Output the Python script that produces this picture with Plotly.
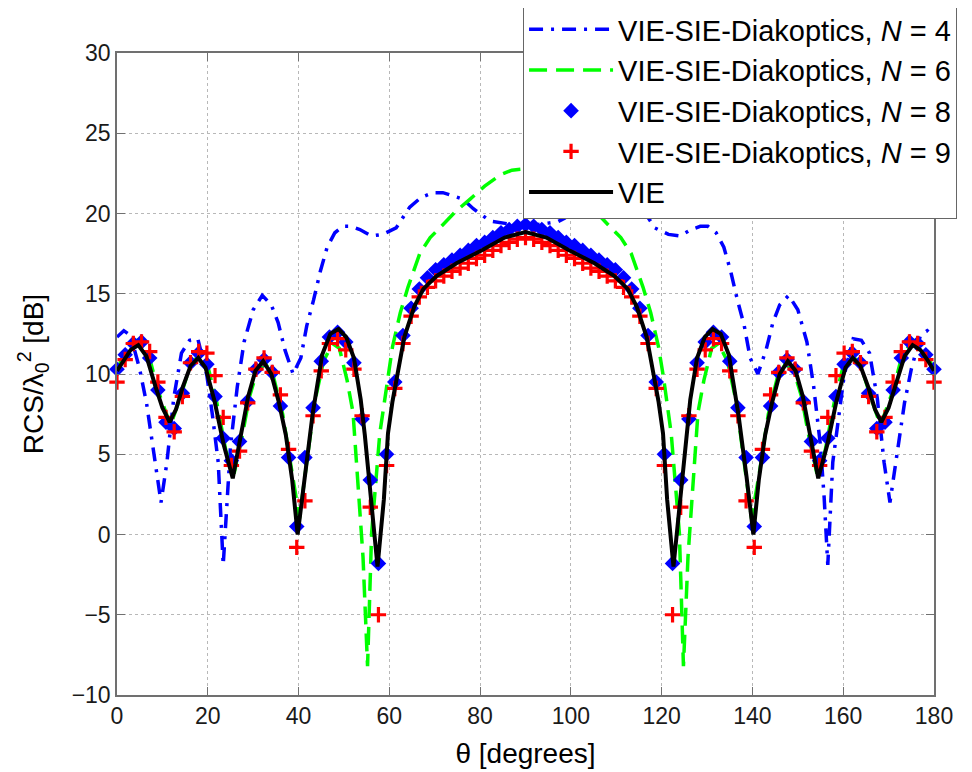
import plotly.graph_objects as go

# ---------------- data ----------------
# VIE-SIE-Diakoptics, N = 4  (dash-dot blue line)
theta_n4 = [0, 1.5, 3.0, 5.0, 6.5, 8.0, 9.7, 11.0, 12.5, 14.2, 16.0, 17.8, 19.8, 21.0, 22.3,
            23.4, 24.2, 25.0, 26.5, 28.0, 30.0, 32.0, 34.0, 35.5, 37.0, 38.8, 40.5, 41.8, 43.3,
            44.8, 46.3, 48.0, 49.8, 51.5, 53.5, 56.0, 58.5, 61.5, 64.5, 67.0, 69.6, 71.8, 74.0,
            76.2, 78.5, 81.4, 82.8, 85.0, 87.5, 90.0,
            92.5, 95.0, 97.2, 98.6, 101.5, 103.8, 106.0, 108.2, 110.4, 113.0, 115.5, 118.5,
            121.5, 124.0, 126.5, 128.5, 130.2, 132.0, 133.7, 135.2, 136.7, 138.2, 139.5, 141.2,
            143.0, 144.5, 146.0, 148.0, 150.0, 152.0, 153.5, 155.0, 155.8, 156.6, 157.7, 159.0,
            160.2, 162.2, 164.0, 165.8, 167.5, 169.0, 170.3, 172.0, 173.5, 175.0, 177.0, 178.5, 180]
rcs_n4 = [12.3, 12.7, 12.4, 10.3, 8.2, 5.3, 2.0, 4.5, 8.5, 11.3, 12.1, 12.2, 9.9, 7.5, 4.5,
          -1.9, 2.3, 5.5, 9.2, 12.0, 14.0, 14.9, 14.3, 13.2, 11.5, 10.0, 11.0, 13.0, 14.6,
          16.4, 17.9, 18.8, 19.2, 19.2, 19.0, 18.6, 18.7, 19.1, 20.4, 21.0, 21.3, 21.3, 21.1,
          20.9, 20.3, 19.7, 19.5, 19.4, 19.3, 19.3,
          19.3, 19.4, 19.5, 19.7, 20.3, 20.9, 21.1, 21.3, 21.3, 21.0, 20.4, 19.1,
          18.7, 18.6, 19.0, 19.2, 19.2, 18.8, 17.9, 16.4, 14.6, 13.0, 11.0, 10.0,
          11.5, 13.2, 14.3, 14.9, 14.0, 12.0, 9.2, 5.5, 2.3, -1.9, 4.5, 7.5,
          9.9, 12.2, 12.1, 11.3, 8.5, 4.5, 2.0, 5.3, 8.2, 10.3, 12.4, 12.7, 12.3]

# VIE-SIE-Diakoptics, N = 6  (dashed green line)
theta_n6 = [0, 2.0, 4.5, 7.0, 9.0, 11.8, 14.0, 16.2, 18.2, 20.0, 22.0, 24.0, 25.8, 27.5, 29.2,
            31.0, 32.8, 34.5, 36.5, 38.5, 40.2, 41.8, 43.6, 45.5, 47.5, 49.0, 50.7, 52.0, 53.1,
            54.2, 55.2, 56.1, 57.9, 59.6, 60.7, 62.4, 64.1, 66.7, 69.0, 71.8, 74.5, 77.8, 81.0,
            84.4, 87.0, 90.0,
            93.0, 95.6, 99.0, 102.2, 105.5, 108.2, 111.0, 113.3, 115.9, 117.6, 119.3, 120.4,
            122.1, 123.9, 124.8, 125.8, 126.9, 128.0, 129.3, 131.0, 132.5, 134.5, 136.4, 138.2,
            139.8, 141.5, 143.5, 145.5, 147.2, 149.0, 150.8, 152.5, 154.2, 156.0, 158.0, 160.0,
            161.8, 163.8, 166.0, 168.2, 171.0, 173.0, 175.5, 178.0, 180]
rcs_n6 = [10.3, 11.4, 12.1, 11.2, 9.0, 6.8, 8.6, 10.6, 11.2, 10.5, 8.2, 5.2, 3.8, 6.0, 8.6,
          10.3, 10.6, 9.8, 7.5, 3.8, 1.0, 4.5, 8.3, 10.8, 11.9, 11.6, 9.6, 7.6, 3.2,
          -1.4, -8.2, 0.1, 6.3, 9.8, 11.7, 13.8, 15.4, 17.5, 18.5, 19.3, 20.1, 20.9, 21.7,
          22.4, 22.7, 22.8,
          22.7, 22.4, 21.7, 20.9, 20.1, 19.3, 18.5, 17.5, 15.4, 13.8, 11.7, 9.8,
          6.3, 0.1, -8.2, -1.4, 3.2, 7.6, 9.6, 11.6, 11.9, 10.8, 8.3, 4.5,
          1.0, 3.8, 7.5, 9.8, 10.6, 10.3, 8.6, 6.0, 3.8, 5.2, 8.2, 10.5,
          11.2, 10.6, 8.6, 6.8, 9.0, 11.2, 12.1, 11.4, 10.3]

# sample angles of the marker series N = 8 and N = 9
theta_grid = [0, 1.8, 3.6, 5.4, 7.2, 9, 10.8, 12.6, 14.4, 16.2, 18, 19.8, 21.6, 23.4, 25.2, 27,
              28.8, 30.6, 32.4, 34.2, 36, 37.8, 39.6, 41.4, 43.2, 45, 46.8, 48.6, 50.4, 52.2, 54,
              55.8, 57.6, 59.4, 61.2, 63, 64.8, 66.6, 68.4, 70.2, 72, 73.8, 75.6, 77.4, 79.2, 81,
              82.8, 84.6, 86.4, 88.2, 90, 91.8, 93.6, 95.4, 97.2, 99, 100.8, 102.6, 104.4, 106.2,
              108, 109.8, 111.6, 113.4, 115.2, 117, 118.8, 120.6, 122.4, 124.2, 126, 127.8, 129.6,
              131.4, 133.2, 135, 136.8, 138.6, 140.4, 142.2, 144, 145.8, 147.6, 149.4, 151.2, 153,
              154.8, 156.6, 158.4, 160.2, 162, 163.8, 165.6, 167.4, 169.2, 171, 172.8, 174.6,
              176.4, 178.2, 180]

# VIE-SIE-Diakoptics, N = 8  (blue diamonds)
rcs_n8 = [10.3, 11.2, 11.9, 12.0, 11.0, 9.0, 7.0, 6.6, 8.8, 10.7, 11.3, 10.6, 8.6, 6.0, 4.6,
          5.8, 8.3, 10.3, 10.9, 10.1, 8.0, 4.8, 0.5, 4.8, 7.9, 10.8, 12.3, 12.6, 12.0, 10.7,
          7.2, 3.4, -1.8, 5.0, 9.5, 12.4, 14.1, 15.3, 16.0, 16.5, 16.8, 17.1, 17.4, 17.7, 18.0,
          18.2, 18.5, 18.8, 19.0, 19.2, 19.3,
          19.2, 19.0, 18.8, 18.5, 18.2, 18.0, 17.7, 17.4, 17.1, 16.8, 16.5, 16.0, 15.3, 14.1,
          12.4, 9.5, 5.0, -1.8, 3.4, 7.2, 10.7, 12.0, 12.6, 12.3, 10.8, 7.9, 4.8, 0.5, 4.8,
          8.0, 10.1, 10.9, 10.3, 8.3, 5.8, 4.6, 6.0, 8.6, 10.6, 11.3, 10.7, 8.8, 6.6, 7.0,
          9.0, 11.0, 12.0, 11.9, 11.2, 10.3]

# VIE-SIE-Diakoptics, N = 9  (red plus signs)
rcs_n9 = [9.5, 10.9, 11.9, 12.0, 11.4, 9.5, 7.3, 6.4, 8.6, 10.7, 11.4, 11.3, 9.9, 7.3, 4.3,
          5.2, 8.2, 10.3, 11.0, 10.1, 8.7, 5.3, -0.8, 2.1, 7.4, 10.2, 11.9, 12.2, 11.5, 10.3,
          7.4, 1.7, -5.0, 4.3, 9.1, 11.9, 13.6, 14.8, 15.4, 15.8, 16.1, 16.4, 16.6, 16.9, 17.2,
          17.4, 17.7, 18.0, 18.2, 18.4, 18.5,
          18.4, 18.2, 18.0, 17.7, 17.4, 17.2, 16.9, 16.6, 16.4, 16.1, 15.8, 15.4, 14.8, 13.6,
          11.9, 9.1, 4.3, -5.0, 1.7, 7.4, 10.3, 11.5, 12.2, 11.9, 10.2, 7.4, 2.1, -0.8, 5.3,
          8.7, 10.1, 11.0, 10.3, 8.2, 5.2, 4.3, 7.3, 9.9, 11.3, 11.4, 10.7, 8.6, 6.4, 7.3,
          9.5, 11.4, 12.0, 11.9, 10.9, 9.5]

# VIE reference solution (solid black line)
theta_vie = [0, 1.5, 3.0, 4.7, 6.5, 8.5, 10.0, 11.6, 13.0, 14.5, 16.2, 17.9, 19.5, 21.5, 23.5,
             25.5, 27.2, 28.9, 30.5, 32.2, 34.0, 35.7, 37.2, 38.6, 39.8, 41.3, 43.1, 45.2, 47.0,
             48.8, 50.5, 52.2, 53.7, 54.6, 55.9, 57.4, 58.8, 59.7, 60.7, 61.8, 63.3, 65.5, 67.5,
             70.4, 74.8, 80.3, 85.4, 90.0,
             94.6, 99.7, 105.2, 109.6, 112.5, 114.5, 116.7, 118.2, 119.3, 120.3, 121.2, 122.6,
             124.1, 125.4, 126.3, 127.8, 129.5, 131.2, 133.0, 134.8, 136.9, 138.7, 140.2, 141.4,
             142.8, 144.3, 146.0, 147.8, 149.5, 151.1, 152.8, 154.5, 156.5, 158.5, 160.5, 162.1,
             163.8, 165.5, 167.0, 168.4, 170.0, 171.5, 173.5, 175.3, 177.0, 178.5, 180]
rcs_vie = [10.2, 10.9, 11.5, 11.8, 11.1, 9.2, 7.9, 7.0, 7.8, 9.2, 10.5, 11.0, 10.4, 8.3, 5.6,
           3.5, 6.0, 8.6, 10.2, 10.8, 10.0, 8.2, 6.2, 3.4, 0.0, 3.6, 7.5, 11.2, 12.5,
           12.8, 12.3, 11.0, 8.4, 6.2, 2.2, -2.0, 2.2, 6.3, 8.3, 10.0, 12.3, 14.2, 15.3,
           16.1, 16.9, 17.7, 18.5, 18.85,
           18.5, 17.7, 16.9, 16.1, 15.3, 14.2, 12.3, 10.0, 8.3, 6.3, 2.2, -2.0,
           2.2, 6.2, 8.4, 11.0, 12.3, 12.8, 12.5, 11.2, 7.5, 3.6, 0.0, 3.4,
           6.2, 8.2, 10.0, 10.8, 10.2, 8.6, 6.0, 3.5, 5.6, 8.3, 10.4, 11.0,
           10.5, 9.2, 7.8, 7.0, 7.9, 9.2, 11.1, 11.8, 11.5, 10.9, 10.2]

x_ticks = [0, 20, 40, 60, 80, 100, 120, 140, 160, 180]
y_ticks = [-10, -5, 0, 5, 10, 15, 20, 25, 30]

names = ["VIE-SIE-Diakoptics, <i>N</i> = 4",
         "VIE-SIE-Diakoptics, <i>N</i> = 6",
         "VIE-SIE-Diakoptics, <i>N</i> = 8",
         "VIE-SIE-Diakoptics, <i>N</i> = 9",
         "VIE"]

# ---------------- figure ----------------
FONT = "Liberation Sans, Arial, Helvetica, sans-serif"
AXIS_GREY = "#707070"

fig = go.Figure()
fig.add_trace(go.Scatter(x=theta_n4, y=rcs_n4, mode="lines", name=names[0],
                         line=dict(color="#0000ff", width=3.5, dash="14px,8px,3px,8px")))
fig.add_trace(go.Scatter(x=theta_n6, y=rcs_n6, mode="lines", name=names[1],
                         line=dict(color="#00ff00", width=3.5, dash="18px,9px")))
fig.add_trace(go.Scatter(x=theta_grid, y=rcs_n8, mode="markers", name=names[2], cliponaxis=False,
                         marker=dict(symbol="diamond", size=12, color="#0000ff",
                                     line=dict(width=0))))
fig.add_trace(go.Scatter(x=theta_grid, y=rcs_n9, mode="markers", name=names[3], cliponaxis=False,
                         marker=dict(symbol="cross-thin", size=11, color="#ff0000",
                                     line=dict(color="#ff0000", width=3.2))))
fig.add_trace(go.Scatter(x=theta_vie, y=rcs_vie, mode="lines", name=names[4],
                         line=dict(color="#000000", width=4)))

# the page body adds an 8 px offset, so the figure is 8 px smaller than the window
fig.update_layout(
    width=964, height=764,
    margin=dict(l=109, r=38, t=45, b=77, autoexpand=False),
    paper_bgcolor="white", plot_bgcolor="white",
    font=dict(family=FONT, color="#000000"),
    showlegend=True,
    legend=dict(x=0.497, y=1.078, xanchor="left", yanchor="top",
                bgcolor="white", bordercolor="#666666", borderwidth=1,
                font=dict(size=29, family=FONT, color="#000000"),
                itemwidth=84, tracegroupgap=0),
)
fig.update_xaxes(range=[0, 180], tickvals=x_ticks, ticks="inside", ticklen=8, tickwidth=1,
                 tickcolor=AXIS_GREY, showline=True, linecolor=AXIS_GREY, linewidth=1.5,
                 mirror="ticks", showgrid=True, gridcolor="#b8b8b8", griddash="dot", gridwidth=1,
                 zeroline=False, tickfont=dict(size=23, color="#1a1a1a"),
                 title=dict(text="θ [degrees]", font=dict(size=28, color="#000000")))
fig.update_yaxes(range=[-10, 30], tickvals=y_ticks, ticks="inside", ticklen=8, tickwidth=1,
                 tickcolor=AXIS_GREY, showline=True, linecolor=AXIS_GREY, linewidth=1.5,
                 mirror="ticks", showgrid=True, gridcolor="#b8b8b8", griddash="dot", gridwidth=1,
                 zeroline=False, tickfont=dict(size=23, color="#1a1a1a"),
                 title=dict(text="RCS/λ<sub>0</sub><sup>2</sup> [dB]", standoff=20,
                            font=dict(size=28, color="#000000")))

fig.write_html("out.html")
